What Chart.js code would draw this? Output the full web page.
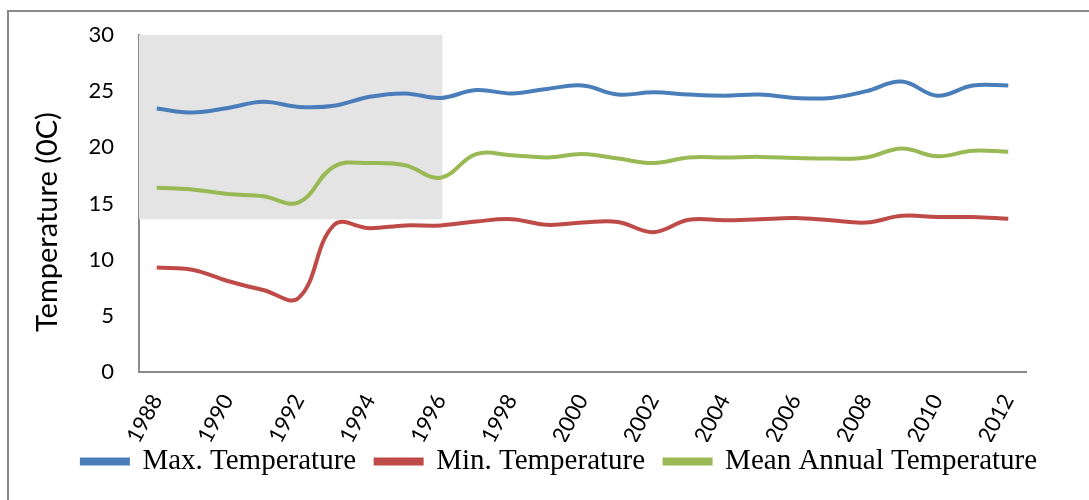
<!DOCTYPE html>
<html>
<head>
<meta charset="utf-8">
<script src="https://cdn.jsdelivr.net/npm/chart.js@4.4.0/dist/chart.umd.min.js"></script>
<style>
  body { margin: 0; background: #fff; overflow: hidden; }
  #frame { position: absolute; left: 7px; top: 10px; width: 1100px; height: 520px; border: 2px solid #8a8a8a; }
  #wrap { position: absolute; left: 0; top: 0; width: 1089px; height: 500px; }
</style>
</head>
<body>
<div id="frame"></div>
<div id="wrap"><canvas id="Cnvs" width="1089" height="500"></canvas></div>
<script>
// years on the category axis
var years = ['1988','1989','1990','1991','1992','1993','1994','1995','1996','1997','1998','1999',
             '2000','2001','2002','2003','2004','2005','2006','2007','2008','2009','2010','2011','2012'];

var maxTemp  = [23.45, 23.1, 23.5, 24.05, 23.6, 23.7, 24.5, 24.8, 24.4, 25.1, 24.8, 25.2,
                25.5, 24.7, 24.9, 24.7, 24.6, 24.7, 24.4, 24.4, 25.0, 25.85, 24.6, 25.5, 25.5];
var minTemp  = [9.3, 9.1, 8.1, 7.3, 6.6, 13.1, 12.8, 13.05, 13.05, 13.4, 13.6, 13.1,
                13.3, 13.35, 12.45, 13.55, 13.5, 13.6, 13.7, 13.5, 13.3, 13.9, 13.8, 13.8, 13.65];
var meanTemp = [16.4, 16.25, 15.85, 15.65, 15.1, 18.3, 18.6, 18.4, 17.3, 19.4, 19.3, 19.1,
                19.4, 19.0, 18.6, 19.1, 19.1, 19.15, 19.05, 19.0, 19.1, 19.9, 19.2, 19.7, 19.6];

var yTicks = [0, 5, 10, 15, 20, 25, 30];

// grey patch behind the early years (index range / value range)
var patch = { toIndex: 8.05, fromValue: 13.6, toValue: 30 };

var patchPlugin = {
  id: 'patch',
  beforeDatasetsDraw: function(chart) {
    var ctx = chart.ctx, x = chart.scales.x, y = chart.scales.y;
    var step = x.getPixelForValue(1) - x.getPixelForValue(0);
    var x0 = chart.chartArea.left;
    var x1 = x.getPixelForValue(0) + step * patch.toIndex;
    var y0 = y.getPixelForValue(patch.toValue);
    var y1 = y.getPixelForValue(patch.fromValue);
    ctx.save();
    ctx.fillStyle = '#e4e4e4';
    ctx.fillRect(x0, y0, x1 - x0, y1 - y0);
    ctx.restore();
  }
};

function line(label, data, color) {
  return {
    label: label,
    data: data,
    borderColor: color,
    backgroundColor: color,
    borderWidth: 4,
    pointRadius: 0,
    tension: 0.4,
    fill: false
  };
}

var tickFont = { family: 'Lato', size: 22 };

var chart = new Chart(document.getElementById('Cnvs'), {
  type: 'line',
  data: {
    labels: years,
    datasets: [
      line('Max. Temperature', maxTemp, '#4a7ebb'),
      line('Min. Temperature', minTemp, '#be4b48'),
      line('Mean Annual Temperature', meanTemp, '#98b954')
    ]
  },
  options: {
    responsive: false,
    animation: false,
    layout: { padding: { left: 30, right: 0, top: 35, bottom: 14 } },
    plugins: {
      tooltip: { enabled: false },
      legend: {
        position: 'bottom',
        labels: {
          color: '#000',
          font: { family: 'Liberation Serif', size: 29 },
          boxWidth: 46,
          boxHeight: 4,
          padding: 5,
          generateLabels: function(chart) {
            var items = Chart.defaults.plugins.legend.labels.generateLabels(chart);
            // a little extra room after every item but the last
            items.forEach(function(it, i) { if (i < items.length - 1) it.text = it.text + '  '; });
            return items;
          }
        }
      }
    },
    scales: {
      x: {
        offset: true,
        grid: { display: false },
        border: { display: true, color: '#8a8a8a', width: 2 },
        ticks: {
          color: '#000',
          font: tickFont,
          autoSkip: false,
          minRotation: 62,
          maxRotation: 62,
          padding: 10,
          callback: function(v, i) { return i % 2 === 0 ? years[i] : ''; }
        },
        afterFit: function(s) { s.height = 70; }
      },
      y: {
        min: 0,
        max: 30,
        afterBuildTicks: function(s) { s.ticks = yTicks.map(function(v) { return { value: v }; }); },
        grid: { display: false },
        border: { display: true, color: '#8a8a8a', width: 2 },
        ticks: { color: '#000', font: tickFont, padding: 17 },
        // trailing spaces push the visible text a bit lower, like the original
        title: { display: true, text: 'Temperature (0C)     ', color: '#000', font: { family: 'Lato', size: 29 }, padding: { top: 0, bottom: 0 } },
        afterFit: function(s) { s.width = 109; }
      },
      // empty right-hand strip, keeps the plot area off the right edge
      yR: {
        position: 'right',
        grid: { display: false },
        border: { display: false },
        ticks: { display: false },
        afterFit: function(s) { s.width = 63; }
      }
    }
  },
  plugins: [patchPlugin]
});
</script>
</body>
</html>
